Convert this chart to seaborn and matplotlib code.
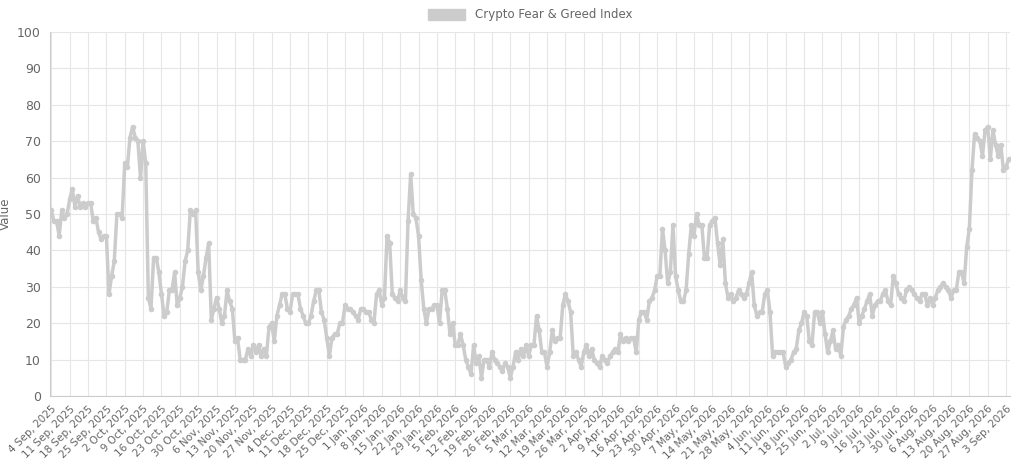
import pandas as pd
import matplotlib.pyplot as plt
import seaborn as sns
from matplotlib.patches import Patch

# daily index values, 4 Sep 2025 .. 4 Sep 2026, one row per week
weeks = [
    [51, 48, 48, 44, 51, 49, 50],
    [54, 57, 52, 55, 52, 53, 52],
    [53, 53, 48, 49, 45, 43, 44],
    [44, 28, 33, 37, 50, 50, 49],
    [64, 63, 71, 74, 71, 70, 60],
    [70, 64, 27, 24, 38, 38, 34],
    [28, 22, 23, 29, 29, 34, 25],
    [27, 30, 37, 40, 51, 50, 51],
    [34, 29, 33, 38, 42, 21, 24],
    [27, 24, 20, 22, 29, 26, 24],
    [15, 16, 10, 10, 10, 13, 11],
    [14, 12, 14, 11, 13, 11, 19],
    [20, 15, 22, 25, 28, 28, 24],
    [23, 28, 28, 28, 24, 22, 20],
    [20, 22, 26, 29, 29, 23, 21],
    [16, 11, 16, 17, 17, 20, 20],
    [25, 24, 24, 23, 22, 21, 24],
    [24, 23, 23, 21, 20, 28, 29],
    [25, 27, 44, 42, 28, 27, 26],
    [29, 27, 26, 48, 61, 50, 49],
    [44, 32, 24, 20, 24, 24, 25],
    [25, 20, 29, 29, 24, 17, 20],
    [14, 14, 17, 14, 10, 8, 6],
    [14, 9, 11, 5, 10, 10, 8],
    [12, 10, 9, 8, 7, 9, 8],
    [5, 8, 12, 10, 13, 11, 14],
    [11, 14, 14, 22, 18, 12, 12],
    [8, 12, 18, 15, 16, 16, 25],
    [28, 26, 23, 11, 12, 10, 8],
    [12, 14, 11, 13, 10, 9, 8],
    [11, 10, 9, 11, 12, 13, 12],
    [17, 15, 16, 15, 16, 16, 12],
    [21, 23, 23, 21, 26, 27, 29],
    [33, 33, 46, 40, 31, 34, 47],
    [33, 29, 26, 26, 29, 39, 47],
    [44, 50, 47, 47, 38, 38, 47],
    [48, 49, 42, 36, 43, 31, 27],
    [28, 26, 27, 29, 28, 27, 28],
    [31, 34, 25, 22, 23, 23, 28],
    [29, 23, 11, 12, 12, 12, 12],
    [8, 9, 10, 12, 13, 18, 20],
    [23, 22, 15, 14, 23, 23, 20],
    [23, 17, 12, 15, 18, 13, 14],
    [11, 19, 21, 22, 24, 25, 27],
    [20, 22, 24, 26, 28, 22, 25],
    [26, 26, 28, 29, 26, 25, 33],
    [31, 28, 27, 26, 29, 30, 29],
    [28, 27, 26, 28, 28, 25, 27],
    [25, 27, 29, 30, 31, 30, 29],
    [27, 29, 29, 34, 34, 31, 41],
    [46, 62, 72, 71, 70, 66, 73],
    [74, 65, 73, 69, 66, 69, 62],
    [63, 65],
]
values = [v for w in weeks for v in w]
dates = pd.date_range("2025-09-04", periods=len(values), freq="D")
df = pd.DataFrame({"date": dates, "value": values})

sns.set_style("whitegrid")
plt.rcParams["font.family"] = ["DejaVu Sans"]
fig = plt.figure(figsize=(10.24, 4.66), dpi=100)
ax = fig.add_axes([50 / 1024, 70 / 466, 960 / 1024, 364 / 466])

sns.lineplot(data=df, x="date", y="value", ax=ax, color="#cccccc", linewidth=2.5,
             marker="o", markersize=4, markeredgewidth=0, legend=False)

ticks = dates[::7]
ax.set_xticks(ticks)
ax.set_xticklabels([f"{d.day} {d.strftime('%b')}, {d.year}" for d in ticks],
                   rotation=45, ha="right", rotation_mode="anchor", fontsize=7.5, color="#666666")
ax.set_xlim(dates[0] - pd.Timedelta(days=0.5), dates[-1] + pd.Timedelta(days=0.5))
ax.set_ylim(0, 100)
ax.set_yticks(range(0, 101, 10))
ax.tick_params(axis="y", labelsize=9, colors="#666666", pad=3)
ax.tick_params(axis="x", pad=2)
ax.set_xlabel("")
ax.set_ylabel("Value", fontsize=8.5, color="#666666")
ax.yaxis.set_label_coords(-0.04, 0.5)
ax.grid(color="#e6e6e6", linewidth=0.8)
for s in ax.spines.values():
    s.set_visible(False)
ax.spines["left"].set_visible(True)
ax.spines["bottom"].set_visible(True)
ax.spines["left"].set_color("#cccccc")
ax.spines["bottom"].set_color("#cccccc")

handle = Patch(facecolor="#cccccc", edgecolor="#cccccc", label="Crypto Fear & Greed Index")
leg = ax.legend(handles=[handle], loc="lower center", bbox_to_anchor=(0.5, 1.0), frameon=False,
                fontsize=8.5, handlelength=3.2, handleheight=1.1)
for t in leg.get_texts():
    t.set_color("#666666")

fig.savefig("out.png", dpi=100)
